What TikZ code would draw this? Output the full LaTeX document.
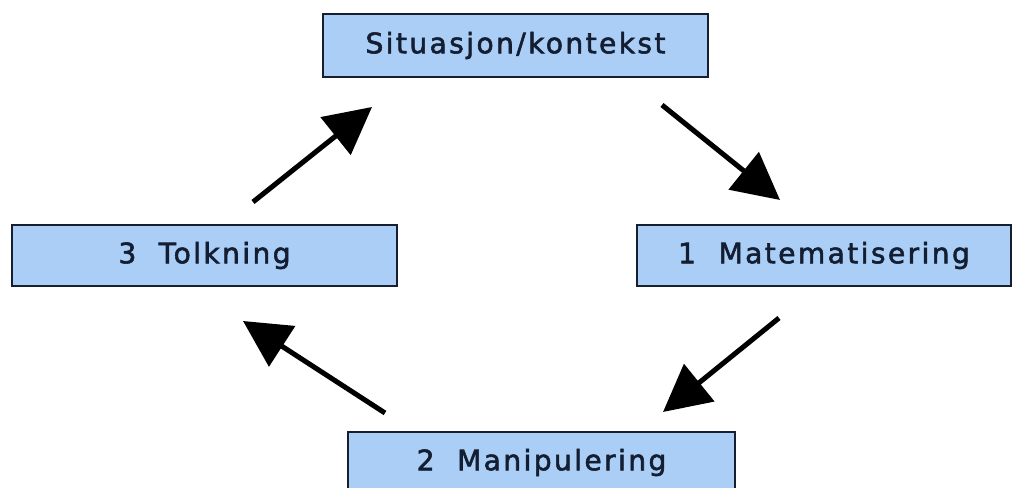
\documentclass[tikz,border=0pt]{standalone}
\usepackage{fontspec}
\newfontfamily\stagefont[LetterSpace=8.5, FakeBold=2]{DejaVu Sans}
\usetikzlibrary{arrows.meta}
\definecolor{boxblue}{RGB}{170,206,245}
\definecolor{boxline}{RGB}{22,30,48}
\definecolor{boxtext}{RGB}{20,30,50}

\begin{document}
\begin{tikzpicture}[x=0.03cm, y=-0.03cm]

    % Styles
    \tikzstyle{stage} = [rectangle, draw=boxline, line width=1.2pt, fill=boxblue, text=boxtext, minimum height=1.84cm, inner sep=0pt, font=\stagefont\fontsize{24}{28}\selectfont]
    \tikzstyle{cycle} = [-{Triangle[length=1.4cm, width=1.42cm]}, line width=4.3pt, black]

    \clip (0,0) rectangle (1013,488);
    \useasboundingbox (0,0) rectangle (1013,488);

    % Stages
    \node[stage, minimum width=11.55cm, minimum height=1.89cm] (sit) at (515.5,45.5) {Situasjon/kontekst};
    \node[stage, minimum width=11.22cm] (mat) at (824,255.5) {1\hspace{0.8em}Matematisering};
    \node[stage, minimum width=11.61cm] (man) at (541.5,462.5) {2\hspace{0.8em}Manipulering};
    \node[stage, minimum width=11.55cm] (tolk) at (204.5,255.5) {3\hspace{0.8em}Tolkning};

    % Arrow ends
    \coordinate (sit-out) at (662,105);
    \coordinate (mat-in) at (780,200);
    \coordinate (mat-out) at (779,318);
    \coordinate (man-in) at (663,412);
    \coordinate (man-out) at (385,413);
    \coordinate (tolk-in) at (243,321);
    \coordinate (tolk-out) at (253,202);
    \coordinate (sit-in) at (372,107);

    % Cycle
    \draw[cycle] (sit-out) -- (mat-in);
    \draw[cycle] (mat-out) -- (man-in);
    \draw[cycle] (man-out) -- (tolk-in);
    \draw[cycle] (tolk-out) -- (sit-in);

\end{tikzpicture}
\end{document}
